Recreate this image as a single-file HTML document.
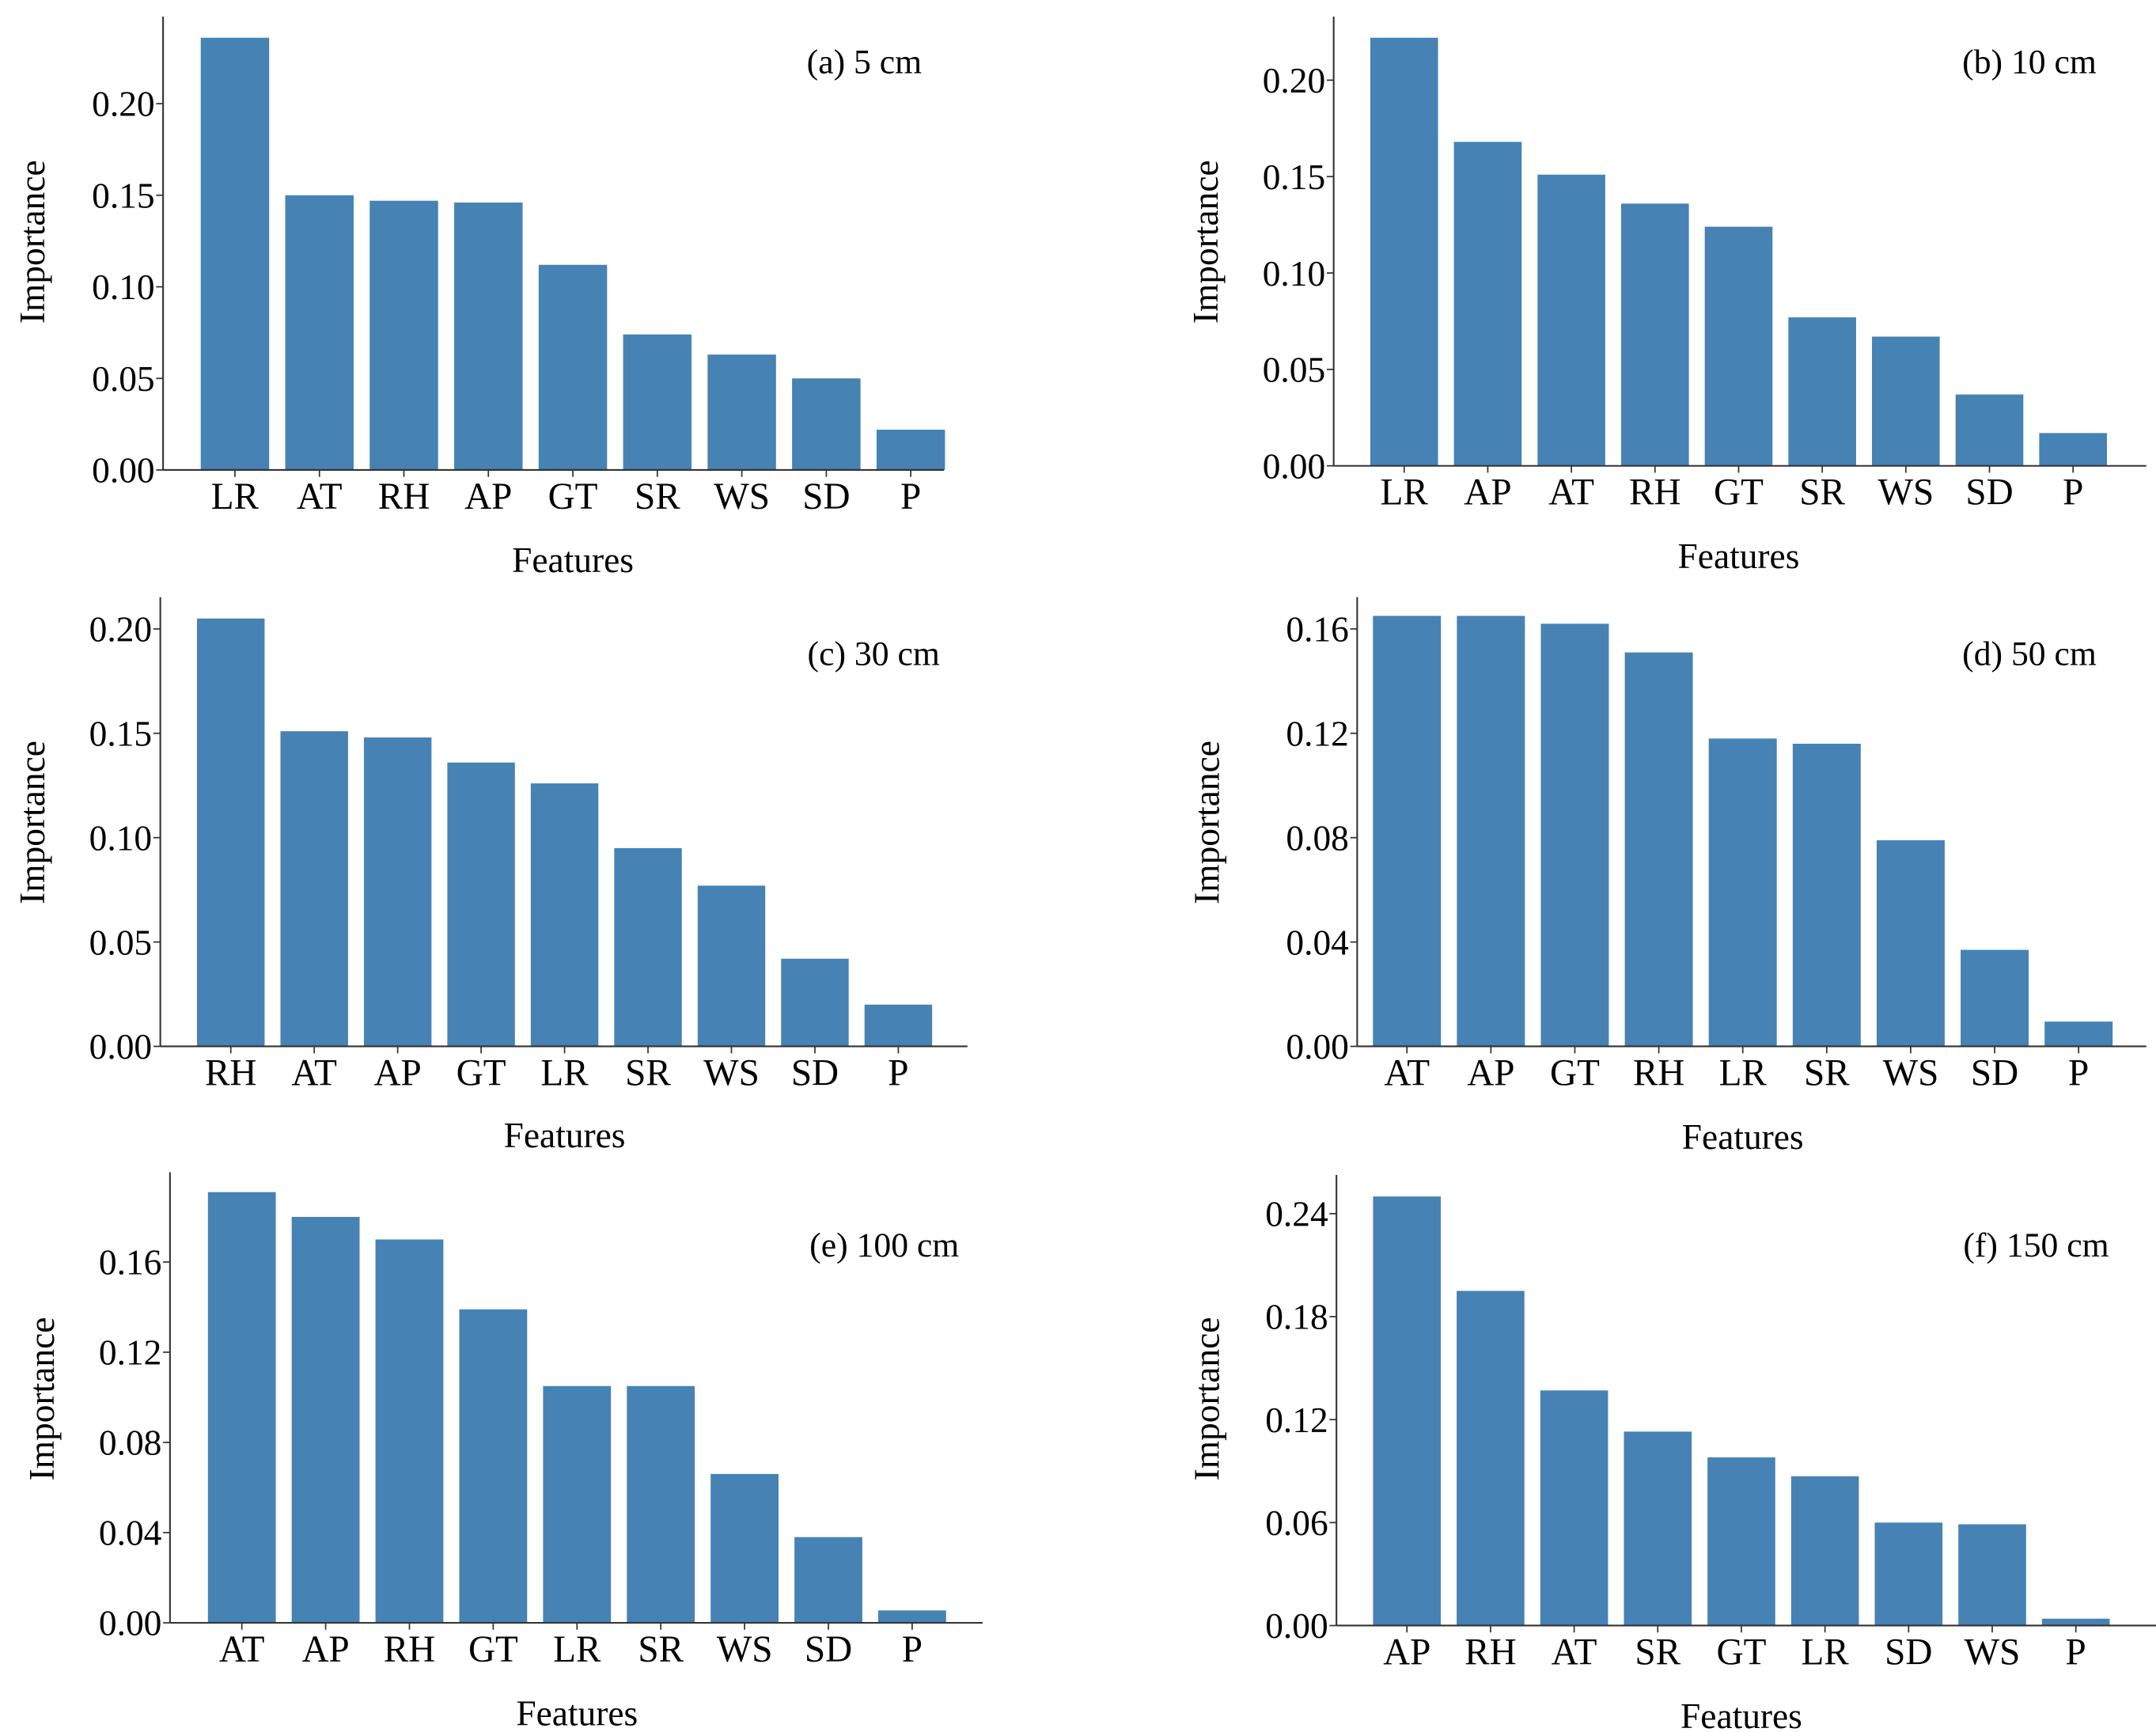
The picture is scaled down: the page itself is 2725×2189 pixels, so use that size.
<!DOCTYPE html>
<html><head><meta charset="utf-8">
<style>
html,body{margin:0;padding:0;background:#fff;}
svg{display:block;}
text{font-family:"Liberation Serif",serif;fill:#000;}
</style></head>
<body>
<svg id="fig" width="2725" height="2189" viewBox="0 0 1560 1253" preserveAspectRatio="none" xmlns="http://www.w3.org/2000/svg"></svg>
<script>
// Panel (a) 5 cm
const catsA = ["LR","AT","RH","AP","GT","SR","WS","SD","P"];
const valsA = [0.236,0.150,0.147,0.146,0.112,0.074,0.063,0.050,0.022];
const ticksA = [0.00,0.05,0.10,0.15,0.20];
// Panel (b) 10 cm
const catsB = ["LR","AP","AT","RH","GT","SR","WS","SD","P"];
const valsB = [0.222,0.168,0.151,0.136,0.124,0.077,0.067,0.037,0.017];
const ticksB = [0.00,0.05,0.10,0.15,0.20];
// Panel (c) 30 cm
const catsC = ["RH","AT","AP","GT","LR","SR","WS","SD","P"];
const valsC = [0.205,0.151,0.148,0.136,0.126,0.095,0.077,0.042,0.020];
const ticksC = [0.00,0.05,0.10,0.15,0.20];
// Panel (d) 50 cm
const catsD = ["AT","AP","GT","RH","LR","SR","WS","SD","P"];
const valsD = [0.165,0.165,0.162,0.151,0.118,0.116,0.079,0.037,0.0095];
const ticksD = [0.00,0.04,0.08,0.12,0.16];
// Panel (e) 100 cm
const catsE = ["AT","AP","RH","GT","LR","SR","WS","SD","P"];
const valsE = [0.191,0.180,0.170,0.139,0.105,0.105,0.066,0.038,0.0055];
const ticksE = [0.00,0.04,0.08,0.12,0.16];
// Panel (f) 150 cm
const catsF = ["AP","RH","AT","SR","GT","LR","SD","WS","P"];
const valsF = [0.250,0.195,0.137,0.113,0.098,0.087,0.060,0.059,0.004];
const ticksF = [0.00,0.06,0.12,0.18,0.24];

const NS = "http://www.w3.org/2000/svg";
const svg = document.getElementById('fig');
function mk(tag, attrs, parent){
  const e = document.createElementNS(NS, tag);
  for (const k in attrs) e.setAttribute(k, attrs[k]);
  (parent||svg).appendChild(e);
  return e;
}

const layouts = [
  {id:"a", label:"(a) 5 cm", cats:catsA, vals:valsA, ticks:ticksA, dec:2,
   ax:118, top:12, base:340, right:683, y0px:340, tmax:0.20, tpx:75, c0:170, c8:659,
   labX:667, labY:53, featY:414, impX:23, impY:175},
  {id:"b", label:"(b) 10 cm", cats:catsB, vals:valsB, ticks:ticksB, dec:2,
   ax:965, top:12, base:337, right:1553, y0px:337, tmax:0.20, tpx:58, c0:1016, c8:1500,
   labX:1517, labY:53, featY:411, impX:872, impY:175},
  {id:"c", label:"(c) 30 cm", cats:catsC, vals:valsC, ticks:ticksC, dec:2,
   ax:116, top:432, base:757, right:700, y0px:757, tmax:0.20, tpx:455, c0:167, c8:650,
   labX:680, labY:481, featY:830, impX:23, impY:595},
  {id:"d", label:"(d) 50 cm", cats:catsD, vals:valsD, ticks:ticksD, dec:2,
   ax:982, top:432, base:757, right:1553, y0px:757, tmax:0.16, tpx:455, c0:1018, c8:1504,
   labX:1517, labY:481, featY:831, impX:873, impY:595},
  {id:"e", label:"(e) 100 cm", cats:catsE, vals:valsE, ticks:ticksE, dec:2,
   ax:123, top:848, base:1174, right:711, y0px:1174, tmax:0.16, tpx:913, c0:175, c8:660,
   labX:694, labY:909, featY:1248, impX:30, impY:1012},
  {id:"f", label:"(f) 150 cm", cats:catsF, vals:valsF, ticks:ticksF, dec:2,
   ax:967, top:850, base:1176, right:1560, y0px:1176, tmax:0.24, tpx:878, c0:1018, c8:1502,
   labX:1526, labY:909, featY:1250, impX:873, impY:1012}
];

layouts.forEach(L => {
  const g = mk('g', {});
  
  
  const ppu = (L.y0px - L.tpx) / L.tmax;
  const yScale = v => L.y0px - v * ppu;
  const step = (L.c8 - L.c0) / 8;
  const xScale = i => L.c0 + i * step;
  const bw = step * 0.81;

  // bars
  L.cats.forEach((c, i) => {
    const y = yScale(L.vals[i]);
    const r = mk('rect', {x: xScale(i) - bw/2, y: y, width: bw, height: L.base - y, fill: '#4682b4'}, g);
    
    
    mk('line', {x1: xScale(i), x2: xScale(i), y1: L.base, y2: L.base + 5, stroke: '#333', 'stroke-width': 1}, g);
    const t = mk('text', {x: xScale(i), y: L.base + 28, 'font-size': 27, 'text-anchor': 'middle'}, g);
    t.textContent = c;
    
    
  });
  // y ticks
  L.ticks.forEach(v => {
    const y = yScale(v);
    mk('line', {x1: L.ax - 5, x2: L.ax, y1: y, y2: y, stroke: '#333', 'stroke-width': 1}, g);
    const t = mk('text', {x: L.ax - 6, y: y + 9, 'font-size': 26, 'text-anchor': 'end'}, g);
    t.textContent = v.toFixed(L.dec);
    
    
  });
  // axes
  const ya = mk('line', {x1: L.ax, x2: L.ax, y1: L.top, y2: L.base, stroke: '#333', 'stroke-width': 1.2}, g);
  
  
  const xa = mk('line', {x1: L.ax, x2: L.right, y1: L.base, y2: L.base, stroke: '#333', 'stroke-width': 1.2}, g);
  
  
  // panel label
  const pl = mk('text', {x: L.labX, y: L.labY, 'font-size': 25, 'text-anchor': 'end'}, g);
  pl.textContent = L.label;
  
  
  // x title
  const xt = mk('text', {x: (L.c0 + L.c8)/2, y: L.featY, 'font-size': 26, 'text-anchor': 'middle'}, g);
  xt.textContent = 'Features';
  
  
  // y title
  const yt = mk('text', {x: L.impX, y: L.impY, 'font-size': 26, 'text-anchor': 'middle', transform: 'rotate(-90 ' + L.impX + ' ' + L.impY + ')', dy: 9}, g);
  yt.textContent = 'Importance';
  
  
});
</script>
</body></html>
